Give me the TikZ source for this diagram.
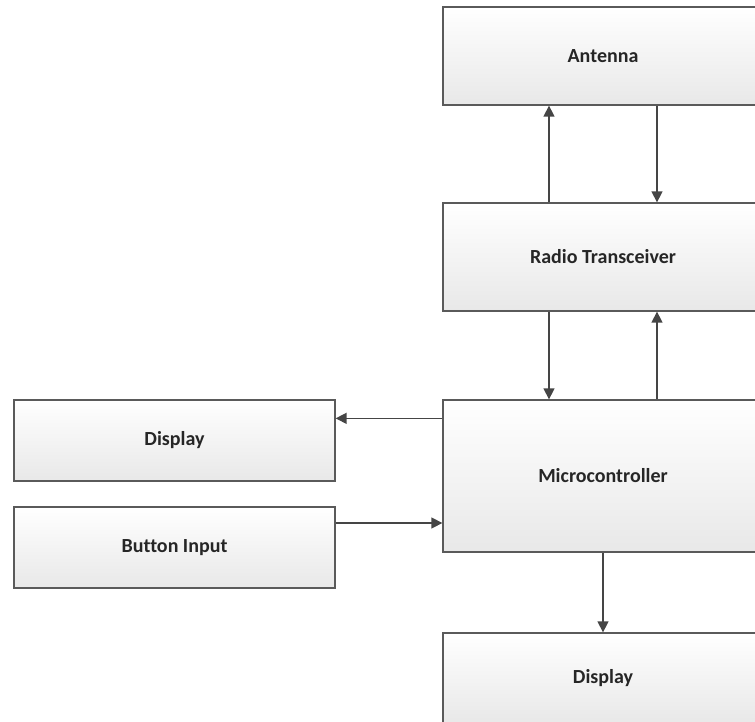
\documentclass[tikz,border=0pt]{standalone}
\usepackage{fontspec}
\setmainfont{Carlito}[Ligatures=CommonOff]
\usetikzlibrary{arrows.meta,shadows}
\definecolor{edge}{HTML}{5A5A5A}
\definecolor{arrowc}{HTML}{454545}
\definecolor{txt}{HTML}{262626}
\tikzset{
  blk/.style={draw=edge, line width=1.3pt, top color=white, bottom color=black!9,
    drop shadow={shadow xshift=1.2pt, shadow yshift=-1.2pt, opacity=0.2},
    minimum width=320pt, inner sep=0pt, font=\bfseries\fontsize{20}{22}\selectfont, text=txt},
  arr/.style={draw=arrowc, line width=1.4pt, -{Triangle[length=11pt,width=11pt]}}
}
\begin{document}
\begin{tikzpicture}[x=1pt,y=-1pt]
\useasboundingbox (0,0) rectangle (755,722);
\node[blk, minimum height=98pt] (ant) at (603,56) {Antenna};
\node[blk, minimum height=108pt] (radio) at (603,257) {Radio Transceiver};
\node[blk, minimum height=152pt] (micro) at (603,476) {Microcontroller};
\node[blk, minimum height=90pt] (disp2) at (603,678) {Display};
\node[blk, minimum width=321pt, minimum height=81pt] (disp1) at (174.5,440.5) {Display};
\node[blk, minimum width=321pt, minimum height=81pt] (btn) at (174.5,547.5) {Button Input};
\draw[arr] ([xshift=-54pt]radio.north) -- ([xshift=-54pt]ant.south);
\draw[arr] ([xshift=54pt]ant.south) -- ([xshift=54pt]radio.north);
\draw[arr] ([xshift=-54pt]radio.south) -- ([xshift=-54pt]micro.north);
\draw[arr] ([xshift=54pt]micro.north) -- ([xshift=54pt]radio.south);
\draw[arr] ([yshift=-19pt]micro.north west) coordinate (m1) -- (m1 -| disp1.east);
\draw[arr] ([yshift=24.5pt]btn.east) coordinate (b1) -- (b1 -| micro.west);
\draw[arr] (micro.south) -- (disp2.north);
\end{tikzpicture}
\end{document}
